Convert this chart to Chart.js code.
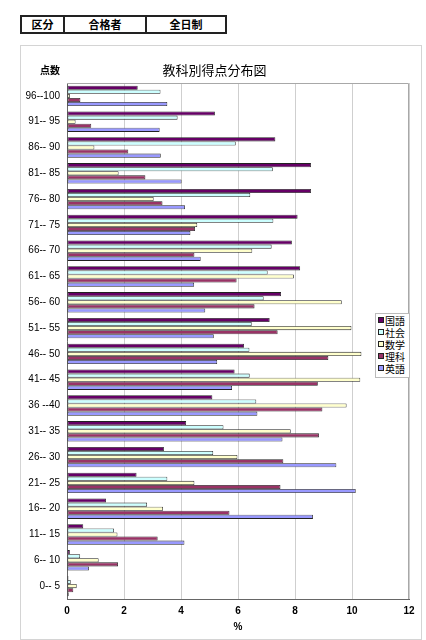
<!DOCTYPE html>
<html lang="ja">
<head>
<meta charset="utf-8">
<script src="https://cdn.jsdelivr.net/npm/chart.js@4.4.1/dist/chart.umd.min.js"></script>
<style>
body { margin: 0; background: #fff; font-family: "Noto Sans CJK JP", sans-serif; }
#page { position: relative; width: 426px; height: 640px; overflow: hidden; }
table.head { position: absolute; left: 20px; top: 15px; border-collapse: collapse; }
table.head td { border: 2px solid #222; height: 15px; padding: 0; text-align: center;
  font-size: 11px; font-weight: bold; line-height: 15px; }
#frame { position: absolute; left: 20px; top: 45px; width: 402px; height: 595px;
  box-sizing: border-box; border: 1px solid #d4d4d4; }
#box { position: absolute; left: 20px; top: 45px; width: 402px; height: 594px; }
#unit { position: absolute; left: 40px; top: 62px; font-size: 10px; font-weight: bold; }
#legend { position: absolute; left: 375px; top: 313px; width: 33px; padding: 1px 0 2px 0;
  border: 1px solid #bbb; background: #fff; font-size: 10px; line-height: 12px; }
#legend div { white-space: nowrap; }
#legend span.sq { display: inline-block; width: 4px; height: 4px; border: 1px solid #222;
  margin: 0 1px 0 2px; vertical-align: 2px; }
</style>
</head>
<body>
<div id="page">
  <table class="head">
    <tr><td style="width:41px">区分</td><td style="width:80px">合格者</td><td style="width:78px">全日制</td></tr>
  </table>
  <div id="frame"></div>
  <div id="box"><canvas id="distChart"></canvas></div>
  <div id="unit">点数</div>
  <div id="legend"></div>
</div>
<script>
// score bands, top to bottom
const bands = ['96--100', '91-- 95', '86-- 90', '81-- 85', '76-- 80', '71-- 75', '66-- 70',
  '61-- 65', '56-- 60', '51-- 55', '46-- 50', '41-- 45', '36 --40', '31-- 35', '26-- 30',
  '21-- 25', '16-- 20', '11-- 15', '6-- 10', '0-- 5'];

// percent of examinees per band
const kokugo = [2.48, 5.19, 7.31, 8.56, 8.56, 8.09, 7.89, 8.18, 7.51, 7.11, 6.21, 5.88, 5.10, 4.18, 3.40, 2.44, 1.37, 0.57, 0.10, 0.05];
const shakai = [3.28, 3.88, 5.92, 7.22, 6.43, 7.24, 7.18, 7.04, 6.90, 6.48, 6.40, 6.41, 6.64, 5.49, 5.13, 3.52, 2.81, 1.65, 0.46, 0.13];
const sugaku = [0.10, 0.30, 0.96, 1.81, 3.04, 4.57, 6.50, 7.96, 9.64, 9.98, 10.33, 10.29, 9.81, 7.85, 5.98, 4.47, 3.37, 1.77, 1.11, 0.34];
const rika   = [0.47, 0.85, 2.15, 2.75, 3.35, 4.49, 4.47, 5.95, 6.58, 7.39, 9.17, 8.80, 8.96, 8.84, 7.59, 7.49, 5.70, 3.18, 1.79, 0.22];
const eigo   = [3.52, 3.25, 3.29, 4.02, 4.14, 4.33, 4.69, 4.46, 4.85, 5.15, 5.27, 5.79, 6.68, 7.56, 9.45, 10.13, 8.63, 4.12, 0.77, 0.06];

const subjects = ['国語', '社会', '数学', '理科', '英語'];
const colors = ['#660066', '#CCFFFF', '#FFFFCC', '#993366', '#9999FF'];
const series = [kokugo, shakai, sugaku, rika, eigo];

const FONT = '"Noto Sans CJK JP", sans-serif';
const NUM_FONT = '"Liberation Sans", Arial, sans-serif';

// gray frame on top and right of the plot
const plotFrame = {
  id: 'plotFrame',
  beforeDatasetsDraw(chart) {
    const { ctx, chartArea: a } = chart;
    ctx.save();
    ctx.strokeStyle = '#a8a8a8';
    ctx.lineWidth = 1;
    ctx.beginPath();
    ctx.moveTo(a.left, a.top + 0.5);
    ctx.lineTo(a.right - 0.5, a.top + 0.5);
    ctx.lineTo(a.right - 0.5, a.bottom);
    ctx.stroke();
    ctx.restore();
  }
};

const ctx = document.getElementById('distChart').getContext('2d');
const chart = new Chart(ctx, {
  type: 'bar',
  data: {
    labels: bands,
    datasets: subjects.map((name, i) => ({
      label: name,
      data: series[i],
      backgroundColor: colors[i],
      borderColor: '#222',
      borderWidth: 0.8,
      borderSkipped: false,
      barPercentage: 1,
      categoryPercentage: 0.79
    }))
  },
  plugins: [plotFrame],
  options: {
    indexAxis: 'y',
    responsive: true,
    maintainAspectRatio: false,
    animation: false,
    layout: { padding: { top: 0, right: 13, bottom: 0, left: 0 } },
    plugins: {
      legend: { display: false },
      tooltip: { enabled: false },
      title: {
        display: true,
        text: '教科別得点分布図',
        color: '#000',
        font: { family: FONT, size: 13, weight: 'normal', lineHeight: 1.2 },
        padding: { top: 17, bottom: 5.4 }
      }
    },
    scales: {
      x: {
        min: 0,
        max: 12,
        afterFit: s => { s.height = 40; },
        ticks: { stepSize: 2, color: '#000', padding: 6, font: { family: NUM_FONT, size: 10, weight: 'bold' } },
        grid: { color: '#cfcfcf', drawTicks: false },
        border: { color: '#666' },
        title: { display: true, text: '%', color: '#000', padding: { top: 0, bottom: 6 },
          font: { family: NUM_FONT, size: 10, weight: 'bold' } }
      },
      y: {
        afterFit: s => { s.width = 47; },
        ticks: { color: '#000', padding: 7, font: { family: NUM_FONT, size: 10 } },
        grid: { display: false, drawTicks: false },
        border: { color: '#666' }
      }
    }
  }
});

// legend sits inside the plot, at the right
const legend = document.getElementById('legend');
subjects.forEach((name, i) => {
  const row = document.createElement('div');
  row.innerHTML = '<span class="sq" style="background:' + colors[i] + '"></span>' + name;
  legend.appendChild(row);
});
</script>
</body>
</html>
